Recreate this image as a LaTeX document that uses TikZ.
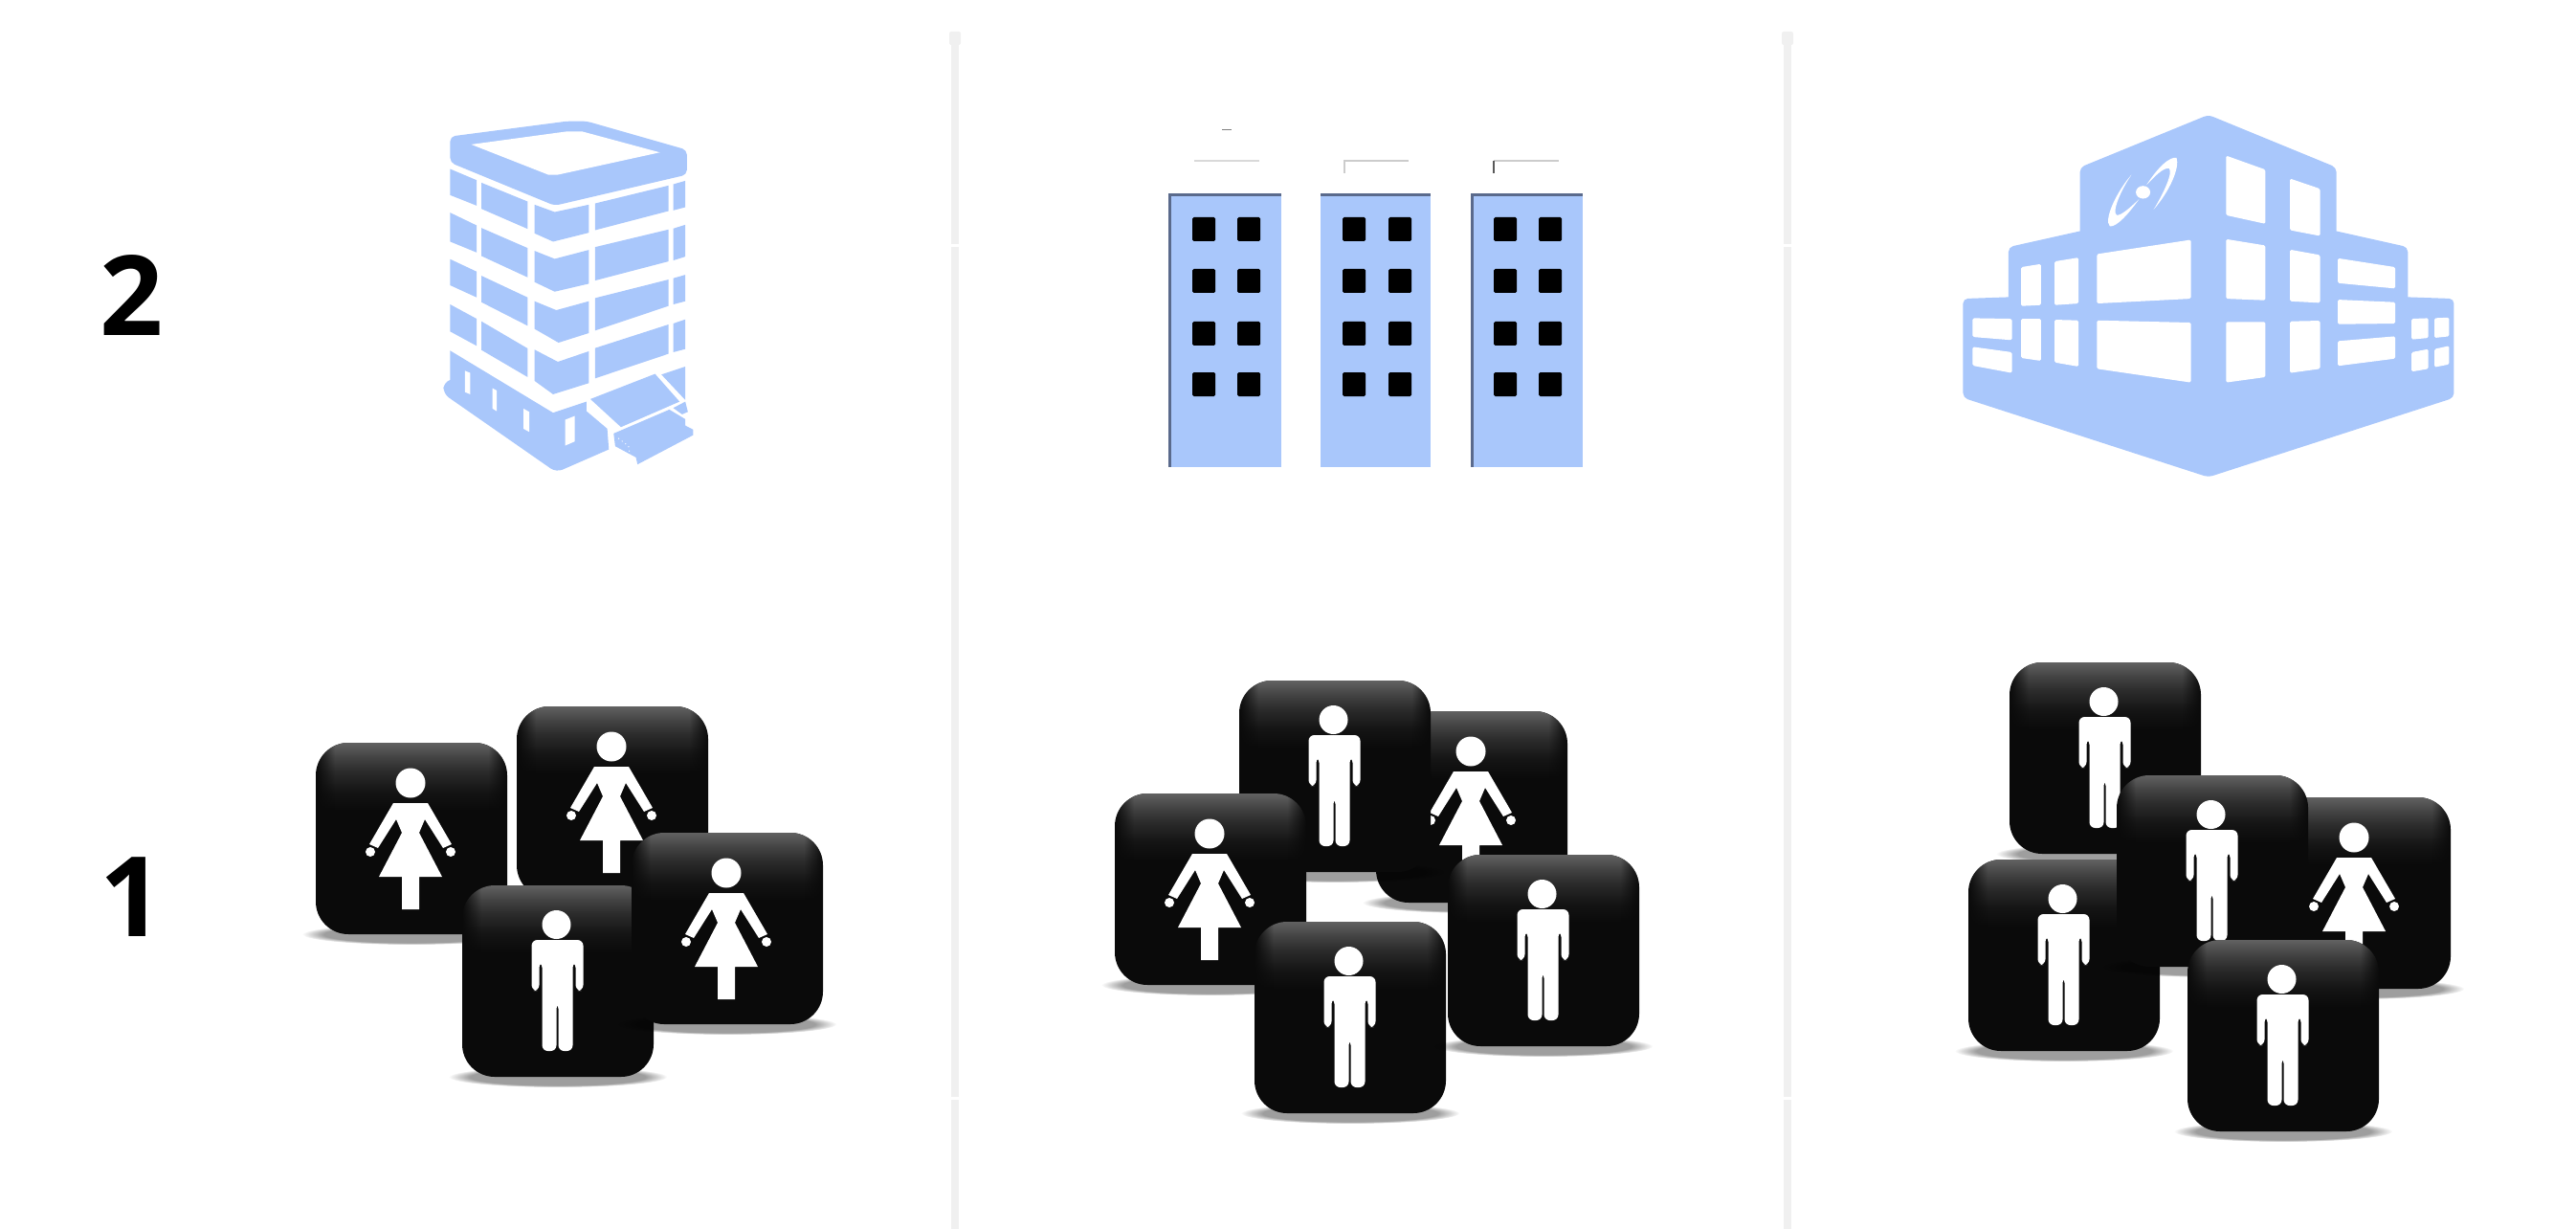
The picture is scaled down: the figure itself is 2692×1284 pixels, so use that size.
\documentclass[tikz,border=0pt]{standalone}
\usepackage{fontspec}
\setmainfont{Open Sans}
\usetikzlibrary{fadings}
\definecolor{bldblue}{HTML}{A9C7FB}
\definecolor{bldedge}{HTML}{5A6A8C}
\definecolor{tileblack}{HTML}{0A0A0A}
\definecolor{divgray}{HTML}{F0F0F0}
\pgfdeclareverticalshading{tileglow}{100bp}{color(0bp)=(tileblack); color(25bp)=(tileblack); color(39bp)=(black!92); color(54bp)=(black!83); color(64bp)=(black!74); color(75bp)=(black!62); color(100bp)=(black!62)}
\pgfdeclarehorizontalshading{glowmask}{100bp}{color(0bp)=(black); color(25bp)=(black); color(30bp)=(white); color(70bp)=(white); color(75bp)=(black); color(100bp)=(black)}
\pgfdeclarefading{glowfade}{\pgfuseshading{glowmask}}
\tikzset{
  rowlabel/.style={font=\fontsize{33}{40}\selectfont\bfseries, inner sep=0pt},
  bldface/.style={fill=bldblue, draw=none},
  bldhole/.style={fill=white, draw=none, rounded corners=0.15mm},
  towerwin/.style={fill=black, draw=none, rounded corners=0.15mm},
  divider/.style={divgray, line width=0.8mm},
  figure/.style={fill=white, draw=none},
  tilebase/.pic={
    \fill[black, opacity=0.38, path fading=circle with fuzzy edge 20 percent] (0,100) ellipse [x radius=114, y radius=11];
    \fill[tileblack, rounded corners=3.4mm] (-100,-100) rectangle (100,100);
    \begin{scope}
      \clip[rounded corners=3.4mm] (-100,-100) rectangle (100,100);
      \shade[shading=tileglow, path fading=glowfade] (-100,-100) rectangle (100,-30);
    \end{scope}
  },
  womantile/.pic={
    \pic {tilebase};
    \begin{scope}[xshift=-0.1mm]
      \fill[figure] (0,-58) circle [radius=15.5];
      \fill[figure] (-18,-37) -- (-43,6) -- (-34,10) -- (-15,-20) -- (-9,-6) -- (-33,40) -- (-9,40) -- (-9,74)
        -- (9,74) -- (9,40) -- (33,40) -- (9,-6) -- (15,-20) -- (34,10) -- (43,6) -- (18,-37) -- cycle;
      \fill[figure] (-42,14) circle [radius=5];
      \fill[figure] (42,14) circle [radius=5];
    \end{scope}
  },
  mantile/.pic={
    \pic {tilebase};
    \begin{scope}[xshift=-0.05mm]
      \fill[figure] (-1,-59) circle [radius=15];
      \fill[figure, rounded corners=0.6mm] (-27,-43) -- (-27,10) -- (-19,10) -- (-19,-20) -- (-16,-20) -- (-16,73)
        -- (-1,73) -- (-1,23) -- (1,23) -- (1,73) -- (16,73) -- (16,-20) -- (19,-20) -- (19,10) -- (27,10) -- (27,-43) -- cycle;
    \end{scope}
  },
}

\begin{document}
\begin{tikzpicture}[x=0.1mm, y=-0.1mm]
  \useasboundingbox (0,0) rectangle (2692,1284);

  \foreach \divx in {998,1868} {
    \draw[divider] (\divx,40) -- (\divx,1284);
    \fill[divgray, rounded corners=0.2mm] (\divx-6,33) rectangle (\divx+6,47);
    \foreach \gapy in {255,1146}
      \fill[white] (\divx-5,\gapy) rectangle (\divx+5,\gapy+3);
  }

  \node[rowlabel] (two) at (138,309) {2};
  \node[rowlabel] (one) at (138,937) {1};

  % left building
  \begin{scope}[shift={(300,90)}, x=0.0333mm, y=-0.0333mm]
    \fill[bldface, rounded corners=0.5mm] (512,240) -- (512,158) -- (880,110) -- (940,110) -- (1255,200) -- (1255,278) -- (840,375) -- cycle;
    \fill[white] (578,183) -- (880,142) -- (925,142) -- (1170,208) -- (850,278) -- (820,278) -- cycle;
    \foreach \winpts in {
      {(512,260) -- (595,295) -- (595,375) -- (512,342)},
      {(610,303) -- (755,362) -- (755,448) -- (610,385)},
      {(777,372) -- (840,395) -- (947,372) -- (947,460) -- (835,488) -- (777,462)},
      {(967,368) -- (1197,312) -- (1197,392) -- (967,452)},
      {(1212,308) -- (1250,297) -- (1250,380) -- (1212,390)},
      {(512,397) -- (595,437) -- (595,522) -- (512,488)},
      {(610,445) -- (755,508) -- (755,600) -- (610,533)},
      {(777,517) -- (840,542) -- (947,514) -- (947,620) -- (840,645) -- (777,615)},
      {(967,505) -- (1197,450) -- (1197,550) -- (967,610)},
      {(1212,447) -- (1250,435) -- (1250,535) -- (1212,547)},
      {(512,543) -- (595,582) -- (595,663) -- (512,625)},
      {(610,595) -- (755,663) -- (755,752) -- (610,678)},
      {(777,675) -- (845,703) -- (947,675) -- (947,775) -- (852,805) -- (777,762)},
      {(967,665) -- (1197,607) -- (1197,690) -- (967,767)},
      {(1212,603) -- (1250,592) -- (1250,675) -- (1212,685)},
      {(512,685) -- (595,730) -- (595,815) -- (512,770)},
      {(610,738) -- (755,823) -- (755,913) -- (610,828)},
      {(777,827) -- (850,865) -- (947,832) -- (947,932) -- (835,967) -- (777,925)},
      {(967,822) -- (1197,748) -- (1197,840) -- (967,917)},
      {(1212,745) -- (1250,732) -- (1250,825) -- (1212,835)},
      {(1175,905) -- (1250,880) -- (1250,985)},
      {(952,982) -- (1155,903) -- (1232,990) -- (1048,1070)},
      {(1212,1010) -- (1250,990) -- (1258,1022) -- (1240,1030)},
      {(1025,1090) -- (1200,1015) -- (1250,1045) -- (1250,1065) -- (1275,1078) -- (1275,1095) -- (1100,1187) -- (1095,1165) -- (1030,1130)}
    }
      \fill[bldface] \winpts -- cycle;
    \fill[bldface] (512,830) -- (835,1025) -- (940,990) -- (940,1020) -- (1005,1075) -- (1010,1140)
      [rounded corners=0.7mm] -- (845,1212) -- (490,965) -- (492,928) [sharp corners] -- (512,922) -- cycle;
    \fill[white] (558,893) -- (575,900) -- (575,967) -- (558,960) -- cycle;
    \fill[white] (645,948) -- (658,955) -- (658,1020) -- (645,1012) -- cycle;
    \fill[white] (742,1012) -- (760,1022) -- (760,1085) -- (742,1075) -- cycle;
    \fill[white] (873,1047) -- (903,1035) -- (903,1115) -- (873,1128) -- cycle;
    \draw[white, line width=0.1mm, densely dotted] (1040,1105) -- (1072,1130) -- (1075,1155);
  \end{scope}

  % towers
  \foreach \towerl/\towerr/\wina/\winb/\edgel in {1221/1339/1246/1293/1, 1380/1495/1403/1451/0, 1537/1654/1561/1608/1} {
    \fill[bldface] (\towerl,202) rectangle (\towerr,488);
    \fill[bldedge] (\towerl,202) rectangle (\towerr,205);
    \ifnum\edgel=1 \fill[bldedge] (\towerl,202) rectangle (\towerl+3,488); \fi
    \foreach \winy in {227,281,336,389} {
      \fill[towerwin] (\wina,\winy) rectangle (\wina+24,\winy+25);
      \fill[towerwin] (\winb,\winy) rectangle (\winb+24,\winy+25);
    }
  }
  \draw[gray, line width=0.1mm] (1277,136) -- (1287,136);
  \draw[black!15, line width=0.2mm] (1248,168) -- (1316,168);
  \draw[black!20, line width=0.2mm] (1405,181) -- (1405,168) -- (1472,168);
  \draw[black!20, line width=0.2mm] (1561,168) -- (1629,168);
  \draw[black!65, line width=0.25mm] (1561,168) -- (1561,181);

  % right building
  \begin{scope}[shift={(2030,100)}, x=0.03571mm, y=-0.0333mm]
    \fill[bldface, rounded corners=0.5mm] (778,60) -- (1153,225) [sharp corners] -- (1153,425) [rounded corners=0.5mm] -- (1362,475) [sharp corners] -- (1362,632)
      [rounded corners=0.5mm] -- (1497,637) -- (1497,948) -- (778,1197) -- (60,948) -- (60,637) [sharp corners] -- (193,632)
      [rounded corners=0.5mm] -- (193,475) [sharp corners] -- (402,425) [rounded corners=0.5mm] -- (402,225) -- cycle;
    \foreach \winpts in {
      {(830,188) -- (945,232) -- (945,402) -- (830,375)},
      {(1017,260) -- (1105,292) -- (1105,440) -- (1017,422)},
      {(452,497) -- (727,452) -- (727,637) -- (452,652)},
      {(830,450) -- (945,470) -- (945,642) -- (830,637)},
      {(1017,483) -- (1105,500) -- (1105,650) -- (1017,645)},
      {(1157,510) -- (1325,538) -- (1325,605) -- (1157,588)},
      {(1157,640) -- (1325,648) -- (1325,715) -- (1157,717)},
      {(1157,770) -- (1325,755) -- (1325,825) -- (1157,848)},
      {(452,705) -- (727,712) -- (727,900) -- (452,857)},
      {(830,710) -- (945,710) -- (945,883) -- (830,900)},
      {(1017,708) -- (1105,706) -- (1105,857) -- (1017,870)},
      {(230,538) -- (288,528) -- (288,657) -- (230,660)},
      {(328,520) -- (398,508) -- (398,652) -- (328,657)},
      {(230,700) -- (288,700) -- (288,832) -- (230,823)},
      {(328,703) -- (398,705) -- (398,850) -- (328,837)},
      {(88,698) -- (203,700) -- (203,767) -- (88,757)},
      {(88,788) -- (203,805) -- (203,870) -- (88,847)},
      {(1373,700) -- (1422,698) -- (1422,760) -- (1373,765)},
      {(1440,698) -- (1483,696) -- (1483,755) -- (1440,760)},
      {(1373,805) -- (1422,795) -- (1422,857) -- (1373,866)},
      {(1440,795) -- (1483,785) -- (1483,843) -- (1440,852)}
    }
      \fill[bldhole] \winpts -- cycle;
    \fill[white] (597,280) .. controls (630,225) and (665,190) .. (685,195) .. controls (695,225) and (665,300) .. (618,357)
      .. controls (650,300) and (675,240) .. (663,228) .. controls (645,225) and (620,255) .. (597,280) -- cycle;
    \fill[white] (575,325) .. controls (545,370) and (510,412) .. (490,410) .. controls (470,390) and (510,300) .. (553,248)
      .. controls (520,300) and (495,365) .. (510,375) .. controls (525,375) and (550,350) .. (575,325) -- cycle;
    \fill[white] (587,303) ellipse [x radius=21, y radius=20];
  \end{scope}

  % people, back to front
  \foreach \tilex/\tiley/\tilekind in {430/876/womantile, 640/838/womantile, 583/1025/mantile, 760/970/womantile,
    1538/843/womantile, 1395/811/mantile, 1265/929/womantile, 1411/1063/mantile, 1613/993/mantile,
    2200/792/mantile, 2461/933/womantile, 2157/998/mantile, 2312/910/mantile, 2386/1082/mantile}
    \pic at (\tilex,\tiley) {\tilekind};
\end{tikzpicture}
\end{document}
